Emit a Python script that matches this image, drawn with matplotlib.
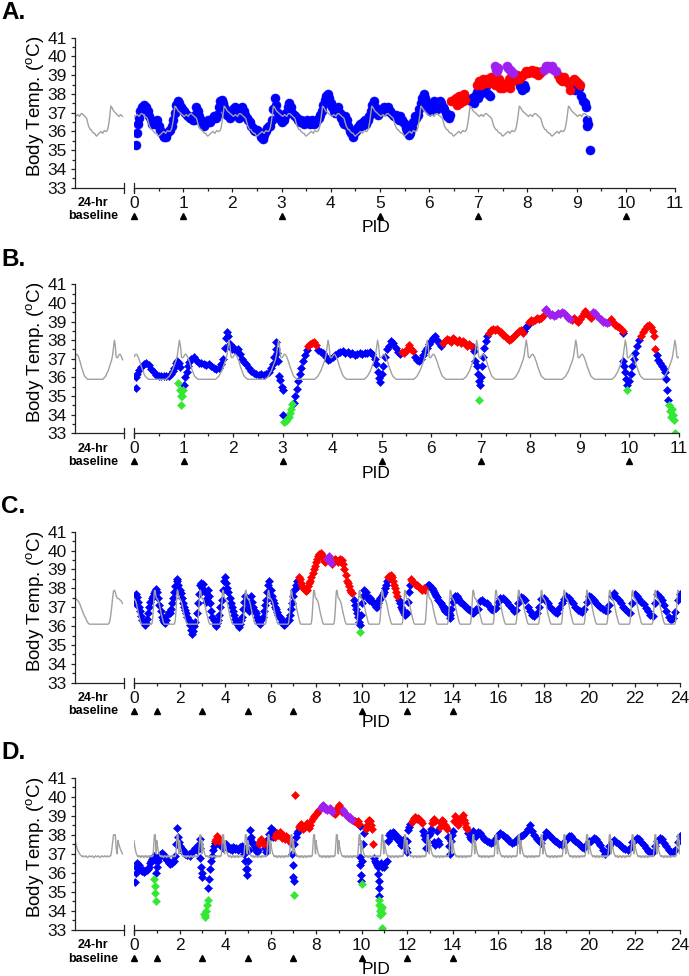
import numpy as np
import matplotlib
matplotlib.use('Agg')
import matplotlib.pyplot as plt

plt.rcParams['font.family'] = ['Liberation Sans', 'DejaVu Sans']
plt.rcParams['mathtext.fontset'] = 'custom'
plt.rcParams['mathtext.rm'] = 'Liberation Sans'

W, H = 689, 976

# 24-hr baseline profiles, one value per half hour (deg C)
base_a = [36.85, 36.8, 36.85, 36.9, 36.85, 36.8, 36.9, 36.95, 36.95, 36.9, 36.85, 36.8,
          36.75, 36.7, 36.5, 36.3, 36.2, 36.1, 36.1, 36.0, 35.95, 35.9, 35.9, 35.8,
          35.75, 35.8, 35.85, 35.9, 35.95, 36.0, 35.95, 35.9, 36.0, 36.05, 36.0, 36.0,
          36.05, 36.2, 36.5, 36.9, 37.35, 37.3, 37.2, 37.1, 37.05, 37.0, 36.95, 36.9]
base_b = [37.1, 37.2, 37.25, 37.2, 37.1, 36.95, 36.8, 36.6, 36.45, 36.3, 36.15, 36.05,
          36.0, 35.95, 35.9, 35.9, 35.9, 35.9, 35.9, 35.9, 35.9, 35.9, 35.9, 35.9,
          35.9, 35.9, 35.9, 35.9, 35.9, 35.9, 35.9, 35.9, 35.95, 36.0, 36.05, 36.15,
          36.25, 36.35, 36.5, 36.65, 36.8, 36.95, 37.2, 37.6, 38.0, 37.7, 37.1, 37.05]
base_c = [37.45, 37.45, 37.4, 37.35, 37.3, 37.2, 37.1, 36.95, 36.85, 36.7, 36.6, 36.5,
          36.4, 36.3, 36.2, 36.15, 36.1, 36.1, 36.1, 36.1, 36.1, 36.1, 36.1, 36.1,
          36.1, 36.1, 36.1, 36.1, 36.1, 36.1, 36.1, 36.1, 36.1, 36.1, 36.1, 36.1,
          36.1, 36.1, 36.15, 36.3, 36.6, 37.0, 37.5, 37.85, 37.9, 37.8, 37.6, 37.5]
base_d = [37.7, 37.5, 37.35, 37.2, 37.1, 37.0, 36.95, 36.9, 36.85, 36.9, 36.85, 36.85,
          36.9, 36.85, 36.8, 36.85, 36.9, 36.85, 36.85, 36.9, 36.85, 36.8, 36.85, 36.9,
          36.85, 36.85, 36.9, 36.85, 36.8, 36.85, 36.9, 36.85, 36.85, 36.9, 36.85, 36.85,
          36.9, 36.85, 36.85, 36.9, 36.9, 37.2, 37.6, 38.0, 38.0, 38.0, 37.3, 37.0]

# telemetry readings (day post infection, deg C)
a_blue = [(0.05, 35.3), (0.06, 35.9), (0.08, 36.4), (0.10, 36.7), (0.13, 37.1), (0.17, 37.3), (0.21, 37.4),
          (0.25, 37.3), (0.28, 37.1), (0.31, 36.8), (0.34, 36.6), (0.37, 36.4), (0.40, 36.5), (0.43, 36.4),
          (0.46, 36.6), (0.50, 36.3), (0.53, 36.1), (0.56, 35.9), (0.59, 35.8), (0.62, 35.7), (0.65, 35.7),
          (0.68, 35.9), (0.71, 36.0), (0.74, 36.1), (0.77, 36.3), (0.80, 36.6), (0.83, 37.0), (0.86, 37.4),
          (0.89, 37.6), (0.92, 37.5), (0.95, 37.3), (0.98, 37.2), (1.01, 37.1), (1.04, 37.0), (1.07, 36.9),
          (1.10, 36.8), (1.13, 36.7), (1.16, 36.7), (1.19, 36.6), (1.22, 36.6), (1.25, 36.9), (1.27, 37.3),
          (1.30, 37.1), (1.33, 36.8), (1.36, 36.6), (1.39, 36.4), (1.42, 36.3), (1.45, 36.4), (1.48, 36.5),
          (1.51, 36.6), (1.54, 36.5), (1.57, 36.6), (1.60, 36.7), (1.63, 36.8), (1.66, 36.7), (1.69, 36.9),
          (1.72, 37.3), (1.75, 37.6), (1.78, 37.7), (1.81, 37.5), (1.84, 37.3), (1.87, 37.1), (1.90, 36.9),
          (1.93, 36.8), (1.96, 36.7), (1.99, 36.9), (2.02, 37.2), (2.05, 37.3), (2.08, 37.0), (2.11, 36.8),
          (2.14, 36.7), (2.17, 37.0), (2.20, 37.3), (2.23, 37.1), (2.26, 36.9), (2.29, 36.7), (2.32, 36.6),
          (2.35, 36.5), (2.38, 36.3), (2.41, 36.2), (2.44, 36.1), (2.47, 36.0), (2.50, 36.1), (2.53, 36.0),
          (2.56, 35.9), (2.59, 35.7), (2.62, 35.6), (2.65, 35.8), (2.68, 36.0), (2.71, 36.2), (2.74, 36.3),
          (2.77, 36.3), (2.80, 36.6), (2.83, 37.2), (2.86, 37.8), (2.89, 37.4), (2.92, 37.0), (2.95, 36.7),
          (2.98, 36.6), (3.01, 36.5), (3.04, 36.6), (3.07, 36.8), (3.10, 37.0), (3.13, 37.3), (3.16, 37.5),
          (3.19, 37.3), (3.22, 37.0), (3.25, 36.9), (3.28, 36.8), (3.31, 36.7), (3.34, 36.6), (3.37, 36.5),
          (3.40, 36.6), (3.43, 36.5), (3.46, 36.4), (3.49, 36.5), (3.52, 36.6), (3.55, 36.5), (3.58, 36.4),
          (3.61, 36.6), (3.64, 36.5), (3.67, 36.4), (3.70, 36.5), (3.73, 36.6), (3.76, 36.7), (3.79, 36.9),
          (3.82, 37.1), (3.85, 37.4), (3.88, 37.7), (3.91, 37.9), (3.94, 38.0), (3.97, 37.8), (4.00, 37.5),
          (4.03, 37.3), (4.06, 37.1), (4.09, 37.0), (4.12, 37.2), (4.15, 37.3), (4.18, 37.0), (4.21, 36.7),
          (4.24, 36.5), (4.27, 36.4), (4.30, 36.8), (4.33, 36.6), (4.36, 36.3), (4.39, 36.0), (4.42, 35.9),
          (4.45, 35.7), (4.48, 35.9), (4.51, 36.0), (4.54, 36.2), (4.57, 36.3), (4.60, 36.4), (4.63, 36.3),
          (4.66, 36.5), (4.69, 36.6), (4.72, 36.4), (4.75, 36.6), (4.78, 36.8), (4.81, 37.1), (4.84, 37.4),
          (4.87, 37.6), (4.90, 37.3), (4.93, 37.0), (4.96, 36.9), (4.99, 37.0), (5.02, 37.1), (5.05, 37.2),
          (5.08, 37.3), (5.11, 37.1), (5.14, 37.2), (5.17, 37.3), (5.20, 37.1), (5.23, 37.0), (5.26, 36.9),
          (5.29, 36.8), (5.32, 36.9), (5.35, 36.7), (5.38, 36.6), (5.41, 36.8), (5.44, 36.6), (5.47, 36.5),
          (5.50, 36.4), (5.53, 36.2), (5.56, 36.0), (5.59, 35.8), (5.62, 35.9), (5.65, 36.2), (5.68, 36.5),
          (5.71, 36.8), (5.74, 36.7), (5.77, 36.9), (5.80, 37.2), (5.83, 37.5), (5.86, 37.8), (5.89, 38.0),
          (5.92, 37.8), (5.95, 37.5), (5.98, 37.3), (6.01, 37.1), (6.04, 37.3), (6.07, 37.5), (6.10, 37.6),
          (6.13, 37.4), (6.16, 37.2), (6.19, 37.4), (6.22, 37.6), (6.25, 37.5), (6.28, 37.3), (6.31, 37.2),
          (6.34, 37.0), (6.37, 36.8), (6.40, 36.7), (6.43, 36.9), (6.85, 37.6), (6.88, 37.8), (6.91, 37.5),
          (6.94, 37.9), (6.97, 38.1), (7.00, 37.8), (7.03, 38.0), (7.06, 38.2), (7.09, 38.1), (7.12, 38.3),
          (7.15, 38.4), (7.20, 38.0), (7.24, 37.9), (7.84, 38.4), (7.88, 38.2), (7.92, 38.5), (7.96, 38.3),
          (8.92, 38.5), (8.96, 38.2), (9.00, 38.4), (9.04, 38.3), (9.08, 37.9), (9.12, 37.6), (9.16, 37.5),
          (9.19, 37.3), (9.21, 36.6), (9.22, 36.3), (9.24, 36.4), (9.27, 35.0)]
a_red = [(6.45, 37.6), (6.50, 37.7), (6.55, 37.8), (6.60, 37.9), (6.65, 37.9), (6.70, 38.0), (6.74, 37.7),
         (6.62, 37.5), (6.56, 37.4), (6.68, 37.6), (6.98, 38.5), (7.02, 38.7), (7.06, 38.5), (7.10, 38.8),
         (7.14, 38.6), (7.18, 38.8), (7.22, 38.6), (7.26, 38.9), (7.30, 38.7), (7.34, 38.5), (7.38, 38.7),
         (7.42, 38.8), (7.46, 38.6), (7.50, 38.3), (7.54, 38.5), (7.58, 38.6), (7.44, 38.3), (7.64, 38.3),
         (7.62, 38.8), (7.66, 38.9), (7.70, 38.7), (7.74, 38.9), (7.78, 39.0), (7.82, 38.8), (7.86, 38.9),
         (7.90, 39.0), (7.94, 39.1), (7.98, 39.2), (8.02, 39.1), (8.06, 39.2), (8.10, 39.3), (8.14, 39.1),
         (8.18, 39.2), (8.22, 39.0), (8.26, 39.1), (8.30, 39.2), (8.62, 39.0), (8.66, 38.8), (8.70, 38.7),
         (8.74, 38.9), (8.78, 38.7), (8.82, 38.6), (8.86, 38.2), (8.90, 38.7), (8.94, 38.8), (8.98, 38.7),
         (9.02, 38.6), (9.06, 38.5)]
a_purple = [(7.34, 39.5), (7.36, 39.3), (7.38, 39.2), (7.40, 39.4), (7.58, 39.5), (7.61, 39.4), (7.64, 39.3),
            (7.67, 39.2), (7.70, 39.1), (8.34, 39.3), (8.38, 39.5), (8.42, 39.5), (8.46, 39.4), (8.50, 39.5),
            (8.54, 39.3), (8.58, 39.2)]
a_green = []

b_blue = [(0.04, 35.45), (0.05, 36.0), (0.07, 36.2), (0.10, 36.4), (0.15, 36.55), (0.20, 36.7), (0.25, 36.75),
          (0.30, 36.65), (0.35, 36.45), (0.40, 36.3), (0.45, 36.15), (0.50, 36.1), (0.55, 36.05), (0.60, 36.05),
          (0.65, 36.1), (0.70, 36.1), (0.74, 36.2), (0.78, 36.35), (0.81, 36.5), (0.84, 36.75), (0.87, 36.9),
          (0.90, 36.75), (0.92, 36.55), (1.01, 35.6), (1.03, 36.0), (1.06, 36.3), (1.09, 36.6), (1.12, 36.85),
          (1.16, 37.0), (1.21, 37.1), (1.26, 36.95), (1.31, 36.8), (1.36, 36.75), (1.41, 36.7), (1.46, 36.65),
          (1.51, 36.7), (1.56, 36.6), (1.61, 36.5), (1.66, 36.45), (1.71, 36.5), (1.76, 36.7), (1.80, 37.0),
          (1.83, 37.6), (1.86, 38.1), (1.88, 38.45), (1.90, 38.2), (1.93, 37.8), (1.97, 37.55), (2.02, 37.6),
          (2.06, 37.4), (2.10, 37.5), (2.14, 37.25), (2.18, 37.0), (2.22, 36.85), (2.27, 36.7), (2.32, 36.5),
          (2.37, 36.35), (2.42, 36.25), (2.47, 36.2), (2.52, 36.15), (2.57, 36.2), (2.62, 36.15), (2.67, 36.2),
          (2.72, 36.3), (2.76, 36.5), (2.80, 36.7), (2.83, 37.1), (2.86, 37.5), (2.87, 37.9), (2.89, 37.3),
          (2.91, 36.9), (2.93, 36.1), (2.95, 35.85), (2.98, 35.5), (3.00, 35.3), (3.01, 34.0), (3.22, 34.6),
          (3.25, 35.0), (3.28, 35.4), (3.31, 35.8), (3.35, 36.2), (3.38, 36.5), (3.42, 36.9), (3.46, 37.2),
          (3.50, 37.45), (3.72, 37.45), (3.77, 37.35), (3.82, 37.3), (3.87, 37.1), (3.91, 36.95), (3.96, 37.0),
          (4.01, 37.1), (4.06, 37.2), (4.11, 37.3), (4.16, 37.35), (4.21, 37.4), (4.26, 37.3), (4.31, 37.35),
          (4.36, 37.25), (4.41, 37.3), (4.46, 37.2), (4.51, 37.25), (4.56, 37.3), (4.61, 37.25), (4.66, 37.3),
          (4.71, 37.3), (4.76, 37.35), (4.81, 37.25), (4.86, 37.0), (4.89, 36.7), (4.92, 36.3), (4.95, 35.95),
          (4.97, 35.75), (5.00, 36.2), (5.03, 36.6), (5.07, 37.1), (5.11, 37.55), (5.15, 37.7), (5.19, 37.95),
          (5.23, 37.85), (5.28, 37.6), (5.32, 37.35), (5.36, 37.25), (5.68, 37.1), (5.72, 36.95), (5.76, 36.9),
          (5.80, 37.0), (5.84, 37.2), (5.88, 37.4), (5.92, 37.6), (5.96, 37.8), (6.00, 37.95), (6.04, 38.1),
          (6.08, 38.2), (6.12, 38.0), (6.16, 37.85), (6.20, 37.7), (6.84, 37.65), (6.87, 37.4), (6.89, 36.9),
          (6.92, 36.6), (6.94, 36.2), (6.96, 35.8), (6.98, 35.6), (7.00, 36.0), (7.02, 36.6), (7.04, 37.1),
          (7.07, 37.6), (7.10, 37.95), (7.13, 38.25), (7.88, 38.5), (7.92, 38.7), (7.95, 38.8), (9.87, 38.4),
          (9.86, 36.9), (9.88, 36.6), (9.90, 36.3), (9.93, 35.9), (9.96, 35.6), (10.00, 35.8), (10.03, 36.2),
          (10.06, 36.6), (10.09, 37.0), (10.12, 37.3), (10.16, 37.7), (10.19, 38.0), (10.55, 37.2),
          (10.58, 36.95), (10.62, 36.75), (10.65, 36.6), (10.69, 36.45), (10.72, 36.3), (10.74, 35.9),
          (10.76, 35.3), (10.78, 34.8)]
b_red = [(3.52, 37.7), (3.56, 37.8), (3.60, 37.85), (3.64, 37.9), (3.67, 37.75), (5.40, 37.35), (5.44, 37.3),
         (5.48, 37.4), (5.52, 37.55), (5.56, 37.75), (5.60, 37.5), (5.64, 37.4), (6.24, 37.85), (6.28, 37.95),
         (6.32, 38.05), (6.36, 38.0), (6.40, 37.9), (6.44, 38.1), (6.48, 38.0), (6.52, 37.9), (6.56, 38.0),
         (6.60, 37.85), (6.64, 37.95), (6.68, 37.85), (6.72, 37.7), (6.76, 37.8), (6.80, 37.7), (7.17, 38.4),
         (7.21, 38.55), (7.25, 38.6), (7.29, 38.55), (7.33, 38.6), (7.37, 38.5), (7.41, 38.45), (7.45, 38.3),
         (7.49, 38.2), (7.53, 38.1), (7.57, 38.0), (7.61, 38.05), (7.65, 38.15), (7.69, 38.3), (7.73, 38.4),
         (7.77, 38.5), (7.81, 38.55), (7.85, 38.4), (7.98, 39.0), (8.02, 39.1), (8.06, 39.05), (8.10, 39.1),
         (8.14, 39.2), (8.18, 39.15), (8.22, 39.2), (8.26, 39.3), (8.84, 39.1), (8.88, 39.2), (8.92, 39.1),
         (8.96, 39.0), (9.00, 39.15), (9.04, 39.3), (9.08, 39.45), (9.11, 39.55), (9.14, 39.4), (9.18, 39.3),
         (9.22, 39.2), (9.58, 39.0), (9.62, 39.15), (9.66, 39.0), (9.70, 38.8), (9.74, 38.75), (9.78, 38.7),
         (9.82, 38.6), (9.86, 38.5), (10.23, 38.2), (10.27, 38.45), (10.31, 38.6), (10.35, 38.75),
         (10.39, 38.8), (10.43, 38.7), (10.47, 38.5), (10.50, 38.25), (10.52, 37.5)]
b_purple = [(8.29, 39.6), (8.32, 39.65), (8.36, 39.5), (8.40, 39.35), (8.44, 39.4), (8.48, 39.3), (8.52, 39.35),
            (8.56, 39.45), (8.60, 39.4), (8.64, 39.5), (8.68, 39.45), (8.72, 39.35), (8.76, 39.2), (8.80, 39.15),
            (9.26, 39.5), (9.30, 39.45), (9.34, 39.3), (9.38, 39.2), (9.42, 39.15), (9.46, 39.0), (9.50, 38.95),
            (9.54, 38.9)]
b_green = [(0.89, 35.7), (0.92, 35.35), (0.94, 35.0), (0.95, 34.5), (0.97, 35.0), (0.99, 35.3), (3.03, 33.6),
           (3.06, 33.65), (3.09, 33.75), (3.12, 33.85), (3.14, 34.1), (3.17, 34.3), (3.19, 34.55), (6.97, 34.8),
           (9.96, 35.3), (10.79, 34.5), (10.81, 34.2), (10.83, 33.9), (10.85, 34.3), (10.87, 34.0), (10.89, 33.7),
           (10.92, 33.0)]

c_blue = [(0.03, 37.2), (0.05, 37.6), (0.08, 37.7), (0.12, 37.55), (0.17, 37.3), (0.22, 37.0), (0.27, 36.8),
          (0.32, 36.55), (0.37, 36.3), (0.42, 36.15), (0.47, 36.05), (0.52, 36.15), (0.57, 36.4), (0.62, 36.7),
          (0.67, 37.0), (0.72, 37.3), (0.77, 37.5), (0.82, 37.6), (0.87, 37.75), (0.92, 37.85), (0.97, 37.95),
          (1.02, 37.8), (1.07, 37.5), (1.12, 37.1), (1.17, 36.8), (1.22, 36.5), (1.27, 36.3), (1.32, 36.2),
          (1.37, 36.15), (1.42, 36.3), (1.47, 36.6), (1.52, 36.75), (1.57, 36.7), (1.62, 36.9), (1.67, 37.2),
          (1.72, 37.5), (1.77, 37.8), (1.82, 38.1), (1.87, 38.4), (1.90, 38.5), (1.95, 38.2), (2.00, 37.9),
          (2.05, 37.75), (2.10, 37.5), (2.15, 37.2), (2.20, 37.0), (2.25, 36.85), (2.30, 36.7), (2.35, 36.5),
          (2.40, 36.3), (2.45, 36.05), (2.50, 35.8), (2.55, 35.6), (2.60, 35.75), (2.65, 36.0), (2.70, 36.2),
          (2.75, 36.7), (2.80, 37.2), (2.85, 37.7), (2.90, 38.2), (2.95, 38.3), (3.00, 38.0), (3.05, 38.25),
          (3.10, 37.8), (3.15, 37.3), (3.20, 37.5), (3.25, 37.9), (3.30, 37.6), (3.35, 37.2), (3.40, 36.8),
          (3.45, 36.5), (3.50, 36.3), (3.55, 36.1), (3.60, 36.0), (3.65, 36.15), (3.70, 36.3), (3.75, 36.6),
          (3.80, 37.0), (3.85, 37.4), (3.90, 37.9), (3.95, 38.4), (4.00, 38.6), (4.05, 38.3), (4.10, 38.0),
          (4.15, 37.8), (4.20, 37.5), (4.25, 37.2), (4.30, 37.0), (4.35, 36.8), (4.40, 36.6), (4.45, 36.4),
          (4.50, 36.2), (4.55, 36.05), (4.60, 35.95), (4.65, 36.1), (4.70, 36.3), (4.75, 36.5), (4.80, 36.9),
          (4.85, 37.3), (4.90, 37.6), (4.95, 37.3), (5.00, 37.0), (5.05, 36.8), (5.10, 37.2), (5.15, 37.6),
          (5.20, 37.3), (5.25, 37.0), (5.30, 36.8), (5.35, 36.7), (5.40, 36.5), (5.45, 36.3), (5.50, 36.15),
          (5.55, 36.1), (5.60, 36.3), (5.65, 36.5), (5.70, 36.8), (5.75, 37.1), (5.80, 37.4), (5.85, 37.8),
          (5.90, 38.2), (5.93, 38.4), (6.00, 37.9), (6.05, 37.6), (6.10, 37.4), (6.15, 37.2), (6.20, 37.0),
          (6.25, 36.9), (6.30, 36.75), (6.35, 36.6), (6.40, 36.5), (6.45, 36.35), (6.50, 36.2), (6.55, 36.1),
          (6.60, 36.05), (6.65, 36.1), (6.70, 36.2), (6.75, 36.4), (6.80, 36.3), (6.85, 36.6), (6.90, 36.9),
          (6.95, 37.2), (7.00, 37.6), (7.05, 37.9), (7.10, 38.2), (7.15, 38.4), (7.20, 38.1), (9.65, 37.4),
          (9.70, 37.1), (9.75, 36.9), (9.80, 36.7), (9.85, 36.5), (9.90, 36.2), (9.93, 36.05), (9.98, 36.6),
          (10.03, 37.2), (10.08, 37.6), (10.13, 37.9), (10.18, 37.8), (10.23, 37.6), (10.28, 37.5),
          (10.33, 37.4), (10.38, 37.5), (10.43, 37.4), (10.48, 37.3), (10.53, 37.2), (10.58, 37.1),
          (10.63, 37.0), (10.68, 37.0), (10.73, 37.2), (10.78, 37.4), (10.83, 37.5), (10.88, 37.6),
          (10.93, 37.7), (10.98, 37.8), (11.03, 38.0), (11.08, 38.2), (11.13, 38.4), (11.63, 37.4),
          (11.68, 37.2), (11.73, 37.0), (11.78, 36.9), (11.83, 36.8), (11.88, 36.7), (11.93, 36.6),
          (11.98, 36.7), (12.03, 37.3), (12.08, 37.8), (12.13, 38.2), (12.83, 37.95), (12.88, 38.05),
          (12.93, 38.15), (12.98, 38.2), (13.03, 38.1), (13.08, 38.0), (13.13, 37.9), (13.18, 37.8),
          (13.23, 37.7), (13.28, 37.6), (13.33, 37.55), (13.38, 37.4), (13.43, 37.3), (13.48, 37.2),
          (13.53, 37.1), (13.58, 37.0), (13.63, 36.9), (13.68, 36.8), (13.73, 36.9), (13.78, 36.75),
          (13.83, 36.7), (13.88, 36.6), (13.90, 36.45), (13.95, 36.9), (14.00, 37.3), (14.05, 37.5),
          (14.10, 37.6), (14.15, 37.55), (14.20, 37.6), (14.25, 37.5), (14.30, 37.4), (14.35, 37.3),
          (14.40, 37.2), (14.45, 37.15), (14.50, 37.1), (14.55, 37.05), (14.60, 37.0), (14.65, 36.95),
          (14.70, 36.9), (14.75, 36.85), (14.80, 36.8), (14.85, 36.75), (14.90, 36.7), (14.95, 36.75),
          (15.00, 36.8), (15.05, 36.9), (15.10, 36.9), (15.20, 37.35), (15.30, 37.4), (15.40, 37.3),
          (15.50, 37.2), (15.60, 37.05), (15.70, 36.9), (15.80, 36.85), (15.90, 36.95), (16.00, 37.3),
          (16.10, 37.5), (16.20, 37.5), (16.30, 37.4), (16.40, 37.25), (16.50, 37.1), (16.60, 36.95),
          (16.70, 36.8), (16.80, 36.85), (16.90, 37.2), (17.00, 37.55), (17.10, 37.5), (17.20, 37.4),
          (17.30, 37.0), (17.40, 36.8), (17.50, 36.6), (17.60, 36.55), (17.70, 36.7), (17.80, 37.0),
          (17.90, 37.45), (18.00, 37.5), (18.10, 37.35), (18.20, 37.2), (18.30, 37.0), (18.40, 36.85),
          (18.50, 36.75), (18.60, 36.7), (18.70, 36.95), (18.80, 37.2), (18.90, 37.45), (19.00, 37.6),
          (19.10, 37.5), (19.20, 37.35), (19.30, 37.2), (19.40, 37.0), (19.50, 36.85), (19.60, 36.8),
          (19.70, 36.75), (19.80, 36.9), (19.90, 37.3), (20.00, 37.6), (20.10, 37.55), (20.20, 37.4),
          (20.30, 37.2), (20.40, 37.1), (20.50, 37.0), (20.60, 36.9), (20.70, 36.85), (20.80, 36.8),
          (20.90, 37.1), (21.00, 37.6), (21.10, 37.75), (21.20, 37.55), (21.30, 37.4), (21.40, 37.2),
          (21.50, 37.0), (21.60, 36.9), (21.70, 36.75), (21.80, 36.7), (21.90, 37.2), (22.00, 37.7),
          (22.10, 37.6), (22.20, 37.45), (22.30, 37.3), (22.40, 37.15), (22.50, 36.95), (22.60, 36.8),
          (22.70, 36.6), (22.80, 36.55), (22.90, 37.2), (23.00, 37.7), (23.10, 37.55), (23.20, 37.4),
          (23.30, 37.1), (23.40, 36.8), (23.50, 36.5), (23.60, 36.3), (23.70, 36.45), (23.80, 36.75),
          (23.90, 37.4), (24.00, 37.7)]
c_red = [(7.25, 38.6), (7.30, 38.5), (7.35, 38.3), (7.40, 38.1), (7.45, 38.0), (7.50, 37.9), (7.55, 37.85),
         (7.60, 37.9), (7.65, 38.1), (7.70, 38.3), (7.75, 38.4), (7.80, 38.6), (7.85, 38.8), (7.90, 39.0),
         (7.95, 39.2), (8.00, 39.4), (8.05, 39.55), (8.10, 39.7), (8.15, 39.8), (8.20, 39.85), (8.25, 39.75),
         (8.30, 39.6), (8.35, 39.45), (8.40, 39.4), (8.45, 39.5), (8.70, 39.3), (8.75, 39.4), (8.80, 39.5),
         (8.85, 39.55), (8.90, 39.5), (8.95, 39.4), (9.00, 39.5), (9.05, 39.55), (9.10, 39.4), (9.15, 39.5),
         (9.20, 39.3), (9.25, 39.0), (9.30, 38.7), (9.35, 38.4), (9.40, 38.3), (9.45, 38.1), (9.50, 37.9),
         (9.55, 37.8), (9.60, 37.75), (11.18, 38.6), (11.23, 38.65), (11.28, 38.7), (11.33, 38.6),
         (11.38, 38.4), (11.43, 38.2), (11.48, 38.0), (11.53, 37.8), (11.58, 37.6), (12.18, 38.5),
         (12.23, 38.4), (12.28, 38.35), (12.33, 38.25), (12.38, 38.2), (12.43, 38.15), (12.48, 38.1),
         (12.53, 38.05), (12.58, 38.0), (12.63, 37.95), (12.68, 37.9), (12.73, 38.0), (12.78, 37.9)]
c_purple = [(8.50, 39.55), (8.55, 39.7), (8.60, 39.5), (8.65, 39.35)]
c_green = [(9.93, 35.7)]

d_blue = [(0.05, 35.5), (0.07, 36.0), (0.10, 36.3), (0.15, 36.5), (0.20, 36.4), (0.25, 36.2), (0.30, 36.15),
          (0.35, 36.1), (0.40, 36.15), (0.45, 36.05), (0.50, 36.1), (0.55, 36.15), (0.60, 36.2), (0.65, 36.3),
          (0.70, 36.5), (0.75, 36.6), (0.80, 36.75), (0.85, 36.85), (0.90, 36.9), (0.93, 36.7), (0.98, 36.0),
          (1.02, 36.3), (1.06, 36.6), (1.10, 36.85), (1.15, 36.9), (1.20, 37.0), (1.25, 37.05), (1.30, 36.95),
          (1.35, 36.85), (1.40, 36.75), (1.45, 36.7), (1.50, 36.6), (1.55, 36.5), (1.60, 36.45), (1.65, 36.5),
          (1.70, 36.6), (1.75, 36.65), (1.80, 36.9), (1.84, 37.5), (1.88, 38.35), (1.92, 37.9), (1.96, 37.6),
          (2.00, 37.4), (2.05, 37.3), (2.10, 37.25), (2.15, 37.2), (2.20, 37.05), (2.25, 37.0), (2.30, 37.0),
          (2.35, 36.95), (2.40, 37.0), (2.45, 36.9), (2.50, 37.05), (2.55, 37.1), (2.60, 37.15), (2.65, 37.2),
          (2.70, 37.3), (2.75, 37.2), (2.80, 37.4), (2.85, 37.5), (2.88, 37.8), (2.90, 37.3), (2.92, 36.8),
          (2.95, 36.3), (2.97, 36.0), (3.00, 35.8), (3.27, 35.2), (3.30, 35.7), (3.34, 36.2), (3.38, 36.6),
          (3.42, 36.9), (3.46, 37.2), (3.50, 37.4), (3.54, 37.55), (3.78, 37.45), (3.85, 37.35), (3.90, 37.3),
          (3.95, 37.4), (4.00, 37.45), (4.05, 37.5), (4.10, 37.35), (4.15, 37.3), (4.20, 37.25), (4.25, 37.3),
          (4.30, 37.2), (4.35, 37.35), (4.40, 37.3), (4.45, 37.25), (4.50, 37.3), (4.55, 37.2), (4.60, 37.25),
          (4.65, 37.35), (4.70, 37.3), (4.75, 37.4), (4.80, 37.2), (4.85, 37.0), (4.88, 36.6), (4.92, 36.2),
          (4.95, 35.9), (4.98, 36.2), (5.02, 36.6), (5.05, 37.2), (5.08, 37.8), (5.10, 38.25), (5.14, 37.9),
          (5.20, 37.6), (5.25, 37.5), (5.30, 37.35), (5.35, 37.2), (5.40, 37.1), (5.45, 37.2), (5.75, 37.3),
          (5.80, 37.1), (5.84, 37.5), (5.90, 37.8), (5.95, 38.05), (6.00, 38.35), (6.05, 38.1), (6.10, 37.9),
          (6.15, 38.2), (6.92, 37.55), (6.96, 37.0), (6.98, 36.4), (7.00, 35.8), (7.02, 35.6), (7.05, 37.5),
          (7.10, 37.9), (7.15, 38.1), (7.20, 38.2), (9.93, 38.45), (9.92, 36.85), (9.94, 36.4), (9.96, 35.9),
          (9.99, 35.6), (10.04, 36.6), (10.07, 37.5), (10.12, 38.1), (10.55, 36.8), (10.60, 36.6),
          (10.63, 36.5), (10.68, 36.4), (10.72, 36.3), (10.74, 35.95), (10.76, 35.6), (10.77, 35.2),
          (10.79, 34.8), (10.85, 36.5), (10.90, 36.3), (10.95, 36.4), (11.00, 36.3), (11.05, 36.5),
          (11.10, 36.6), (11.17, 37.7), (11.20, 38.0), (11.25, 38.1), (11.30, 37.9), (11.35, 38.0),
          (11.40, 38.15), (11.45, 38.1), (11.50, 37.95), (11.55, 37.8), (11.60, 37.9), (11.65, 37.7),
          (11.70, 37.6), (11.75, 37.45), (11.80, 37.6), (11.85, 37.8), (11.90, 37.6), (11.95, 37.3),
          (11.98, 37.1), (12.02, 37.7), (12.06, 38.25), (12.10, 38.4), (12.15, 38.55), (12.70, 38.2),
          (12.75, 38.0), (12.80, 37.8), (12.85, 37.3), (12.90, 37.7), (12.95, 38.0), (13.00, 38.1),
          (13.05, 38.3), (13.20, 37.6), (13.25, 37.45), (13.30, 38.2), (13.35, 37.7), (13.40, 37.5),
          (13.80, 37.9), (13.85, 37.4), (13.90, 37.0), (13.92, 37.7), (13.96, 38.0), (14.00, 38.2),
          (14.70, 38.1), (14.75, 37.9), (14.80, 37.8), (14.85, 38.1), (14.90, 38.2), (14.95, 38.0),
          (15.00, 37.9), (15.05, 38.0), (15.10, 38.15), (15.20, 38.1), (15.30, 37.95), (15.40, 37.8),
          (15.50, 37.7), (15.60, 37.6), (15.70, 37.55), (15.80, 37.6), (15.90, 37.85), (16.00, 38.0),
          (16.10, 38.1), (16.20, 38.0), (16.30, 37.9), (16.40, 37.85), (16.50, 37.7), (16.60, 37.55),
          (16.70, 37.6), (16.80, 37.7), (16.90, 37.85), (17.00, 37.95), (17.10, 38.0), (17.20, 38.1),
          (17.30, 38.3), (17.40, 38.5), (17.50, 38.2), (17.60, 38.0), (17.70, 37.8), (17.80, 37.65),
          (17.90, 37.55), (18.00, 37.9), (18.10, 38.15), (18.20, 38.05), (18.30, 37.95), (18.40, 37.8),
          (18.50, 37.7), (18.60, 37.6), (18.70, 37.5), (18.80, 37.45), (18.90, 37.6), (19.00, 37.75),
          (19.10, 37.95), (19.20, 37.95), (19.30, 37.8), (19.40, 37.65), (19.50, 37.55), (19.60, 37.45),
          (19.70, 37.35), (19.80, 37.3), (19.90, 37.5), (20.00, 37.65), (20.10, 37.7), (20.20, 37.85),
          (20.30, 37.8), (20.40, 37.6), (20.50, 37.45), (20.60, 37.2), (20.70, 37.0), (20.80, 37.1),
          (20.90, 37.4), (21.00, 37.6), (21.10, 37.75), (21.20, 37.6), (21.30, 37.5), (21.40, 37.4),
          (21.50, 37.3), (21.60, 37.25), (21.70, 37.2), (21.80, 37.3), (21.90, 37.6), (22.00, 37.75),
          (22.10, 37.85), (22.20, 37.8), (22.30, 37.6), (22.40, 37.45), (22.50, 37.3), (22.60, 37.15),
          (22.70, 37.1), (22.80, 37.1), (22.90, 37.4), (23.00, 37.7), (23.10, 37.85), (23.20, 37.8),
          (23.30, 37.55), (23.40, 37.4), (23.50, 37.2), (23.60, 37.1), (23.70, 37.1), (23.80, 37.2),
          (23.90, 37.6), (24.00, 37.95)]
d_red = [(3.57, 37.7), (3.60, 37.8), (3.64, 37.95), (3.68, 37.85), (3.72, 37.7), (5.50, 37.5), (5.55, 37.7),
         (5.60, 37.8), (5.65, 37.6), (5.70, 37.5), (6.20, 37.9), (6.25, 38.05), (6.30, 38.1), (6.35, 38.0),
         (6.40, 38.15), (6.45, 37.95), (6.50, 37.85), (6.55, 38.0), (6.60, 37.9), (6.65, 37.8), (6.70, 37.95),
         (6.75, 37.85), (6.80, 37.75), (6.85, 37.7), (7.09, 40.1), (7.25, 38.4), (7.30, 38.5), (7.35, 38.55),
         (7.40, 38.4), (7.45, 38.3), (7.50, 38.4), (7.55, 38.5), (7.60, 38.6), (7.65, 38.45), (7.70, 38.35),
         (7.75, 38.5), (7.80, 38.7), (7.85, 38.9), (7.90, 39.0), (7.95, 39.05), (8.00, 39.1), (8.05, 39.15),
         (8.10, 39.25), (8.15, 39.3), (8.75, 39.2), (8.80, 39.15), (8.85, 39.1), (8.90, 39.3), (8.95, 39.45),
         (9.00, 39.55), (9.05, 39.4), (9.10, 39.3), (9.15, 39.2), (9.65, 38.75), (9.70, 38.7), (9.75, 38.65),
         (9.80, 38.6), (9.85, 38.7), (9.90, 38.55), (10.18, 38.3), (10.22, 38.5), (10.27, 38.7),
         (10.32, 38.8), (10.37, 38.7), (10.42, 38.5), (10.47, 38.3), (10.51, 37.5), (12.20, 38.65),
         (12.25, 38.8), (12.30, 38.9), (12.35, 38.95), (12.40, 38.9), (12.45, 38.85), (12.50, 38.9),
         (12.55, 38.8), (12.60, 38.7), (12.65, 38.6), (13.10, 38.6), (13.15, 38.8), (13.20, 38.85),
         (13.25, 38.7), (13.45, 38.4), (13.50, 38.6), (13.55, 38.8), (13.60, 38.7), (13.65, 38.5),
         (13.70, 38.4), (13.75, 38.3), (14.05, 38.7), (14.10, 39.0), (14.15, 38.8), (14.20, 38.6),
         (14.25, 38.5), (14.30, 38.7), (14.35, 38.8), (14.40, 38.95), (14.45, 39.05), (14.50, 38.8),
         (14.55, 38.6), (14.60, 38.4), (14.65, 38.3)]
d_purple = [(8.20, 39.4), (8.25, 39.5), (8.30, 39.55), (8.35, 39.45), (8.40, 39.35), (8.45, 39.4), (8.50, 39.3),
            (8.55, 39.35), (8.60, 39.4), (8.65, 39.3), (8.70, 39.2), (9.20, 39.3), (9.25, 39.2), (9.30, 39.1),
            (9.35, 39.0), (9.40, 38.95), (9.45, 38.9), (9.50, 38.95), (9.55, 38.85), (9.60, 38.8)]
d_green = [(0.88, 35.7), (0.91, 35.3), (0.93, 34.95), (0.95, 34.5), (3.06, 33.85), (3.10, 33.7), (3.13, 33.8),
           (3.16, 34.0), (3.20, 34.3), (3.24, 34.55), (7.02, 34.85), (10.00, 35.4), (10.75, 34.6),
           (10.78, 34.3), (10.80, 34.0), (10.82, 33.8), (10.85, 34.1), (10.88, 33.9), (10.90, 34.2),
           (10.88, 33.1)]

dose_days_ab = [0, 1, 3, 5, 7, 10]
dose_days_cd = [0, 1, 3, 5, 7, 10, 12, 14]

BLUE, RED, PURPLE, GREEN, GRAY = '#0000ff', '#ff0000', '#a020f0', '#33e833', '#a0a0a0'

panels = [
    dict(letter='A.', top=37.7, bot=187.7, right=675, days=11, base=base_a, gray_end=9.25,
         pts=(a_blue, a_red, a_purple, a_green), marker='o', ms=6.5, doses=dose_days_ab),
    dict(letter='B.', top=284.3, bot=433.3, right=679, days=11, base=base_b, gray_end=11.0,
         pts=(b_blue, b_red, b_purple, b_green), marker='D', ms=4.0, doses=dose_days_ab),
    dict(letter='C.', top=531.7, bot=682.7, right=680, days=24, base=base_c, gray_end=23.95,
         pts=(c_blue, c_red, c_purple, c_green), marker='D', ms=4.0, doses=dose_days_cd),
    dict(letter='D.', top=777.7, bot=930.0, right=680, days=24, base=base_d, gray_end=24.0,
         pts=(d_blue, d_red, d_purple, d_green), marker='D', ms=4.0, doses=dose_days_cd),
]


def px_box(left, top, right, bot):
    return [left / W, 1 - bot / H, (right - left) / W, (bot - top) / H]


def style_ax(ax):
    for s in ('top', 'right'):
        ax.spines[s].set_visible(False)
    for s in ('left', 'bottom'):
        ax.spines[s].set_linewidth(0.9)
        ax.spines[s].set_color('#222222')
    ax.tick_params(which='both', direction='out', colors='#222222', labelsize=12.5,
                   width=0.9, labelcolor='#111111')
    ax.tick_params(which='major', length=3.2, pad=2.5)
    ax.tick_params(which='minor', length=2.0)


fig = plt.figure(figsize=(W / 100, H / 100), dpi=100)

for p in panels:
    hpx = p['bot'] - p['top']
    prof = np.array(p['base'])
    n = len(prof)

    # baseline day
    axb = fig.add_axes(px_box(75, p['top'], 124, p['bot']))
    style_ax(axb)
    bvals = np.concatenate([prof, prof[:6]])
    axb.plot(np.arange(len(bvals)) / n, bvals, color=GRAY, lw=1.0)
    axb.set_xlim(0, 1.14)
    axb.set_ylim(33, 41)
    axb.set_xticks([])
    axb.set_yticks(range(33, 42))
    axb.set_yticks(np.arange(33.5, 41, 1.0), minor=True)
    axb.plot([1, 1], [-5 / hpx, 5 / hpx], transform=axb.transAxes, color='#222222',
             lw=0.9, clip_on=False)

    # post infection days
    axm = fig.add_axes(px_box(134, p['top'], p['right'], p['bot']))
    style_ax(axm)
    axm.spines['left'].set_visible(False)
    axm.set_yticks([])
    axm.set_ylim(33, 41)
    axm.set_xlim(0, p['days'])
    if p['days'] == 11:
        axm.set_xticks(range(0, 12))
        axm.set_xticks(np.arange(0.5, 11, 1.0), minor=True)
    else:
        axm.set_xticks(range(0, 25, 2))
        axm.set_xticks(range(1, 24, 2), minor=True)
    axm.plot([0, 0], [-5 / hpx, 5 / hpx], transform=axm.transAxes, color='#222222',
             lw=0.9, clip_on=False)

    for pts, col in zip(p['pts'], (BLUE, RED, PURPLE, GREEN)):
        if not pts:
            continue
        t, v = zip(*pts)
        axm.plot(t, v, linestyle='none', marker=p['marker'], ms=p['ms'], color=col,
                 mec=col, mew=0.4, zorder=2)

    gvals = np.tile(prof, int(np.ceil(p['gray_end'])) + 1)
    gt = np.arange(len(gvals)) / n
    keep = gt <= p['gray_end']
    axm.plot(gt[keep], gvals[keep], color=GRAY, lw=1.0, zorder=3)

    axm.plot(p['doses'], [-28 / hpx] * len(p['doses']), linestyle='none', marker='^',
             ms=4.5, color='black', transform=axm.get_xaxis_transform(), clip_on=False)

    fig.text(1 / W, 1 - (p['top'] - 25) / H, p['letter'], fontsize=17.5, fontweight='bold',
             ha='left', va='center')
    fig.text(36 / W, 1 - (p['top'] + hpx / 2 - 6) / H, 'Body Temp. ($^{\\mathrm{o}}$C)',
             rotation=90, fontsize=13.5, ha='center', va='center')
    fig.text(93 / W, 1 - (p['bot'] + 22) / H, '24-hr\nbaseline', fontsize=9, fontweight='bold',
             ha='center', va='center', linespacing=1.15)
    fig.text(376 / W, 1 - (p['bot'] + 40) / H, 'PID', fontsize=12.5, ha='center', va='center')

fig.savefig('out.png', dpi=100)
